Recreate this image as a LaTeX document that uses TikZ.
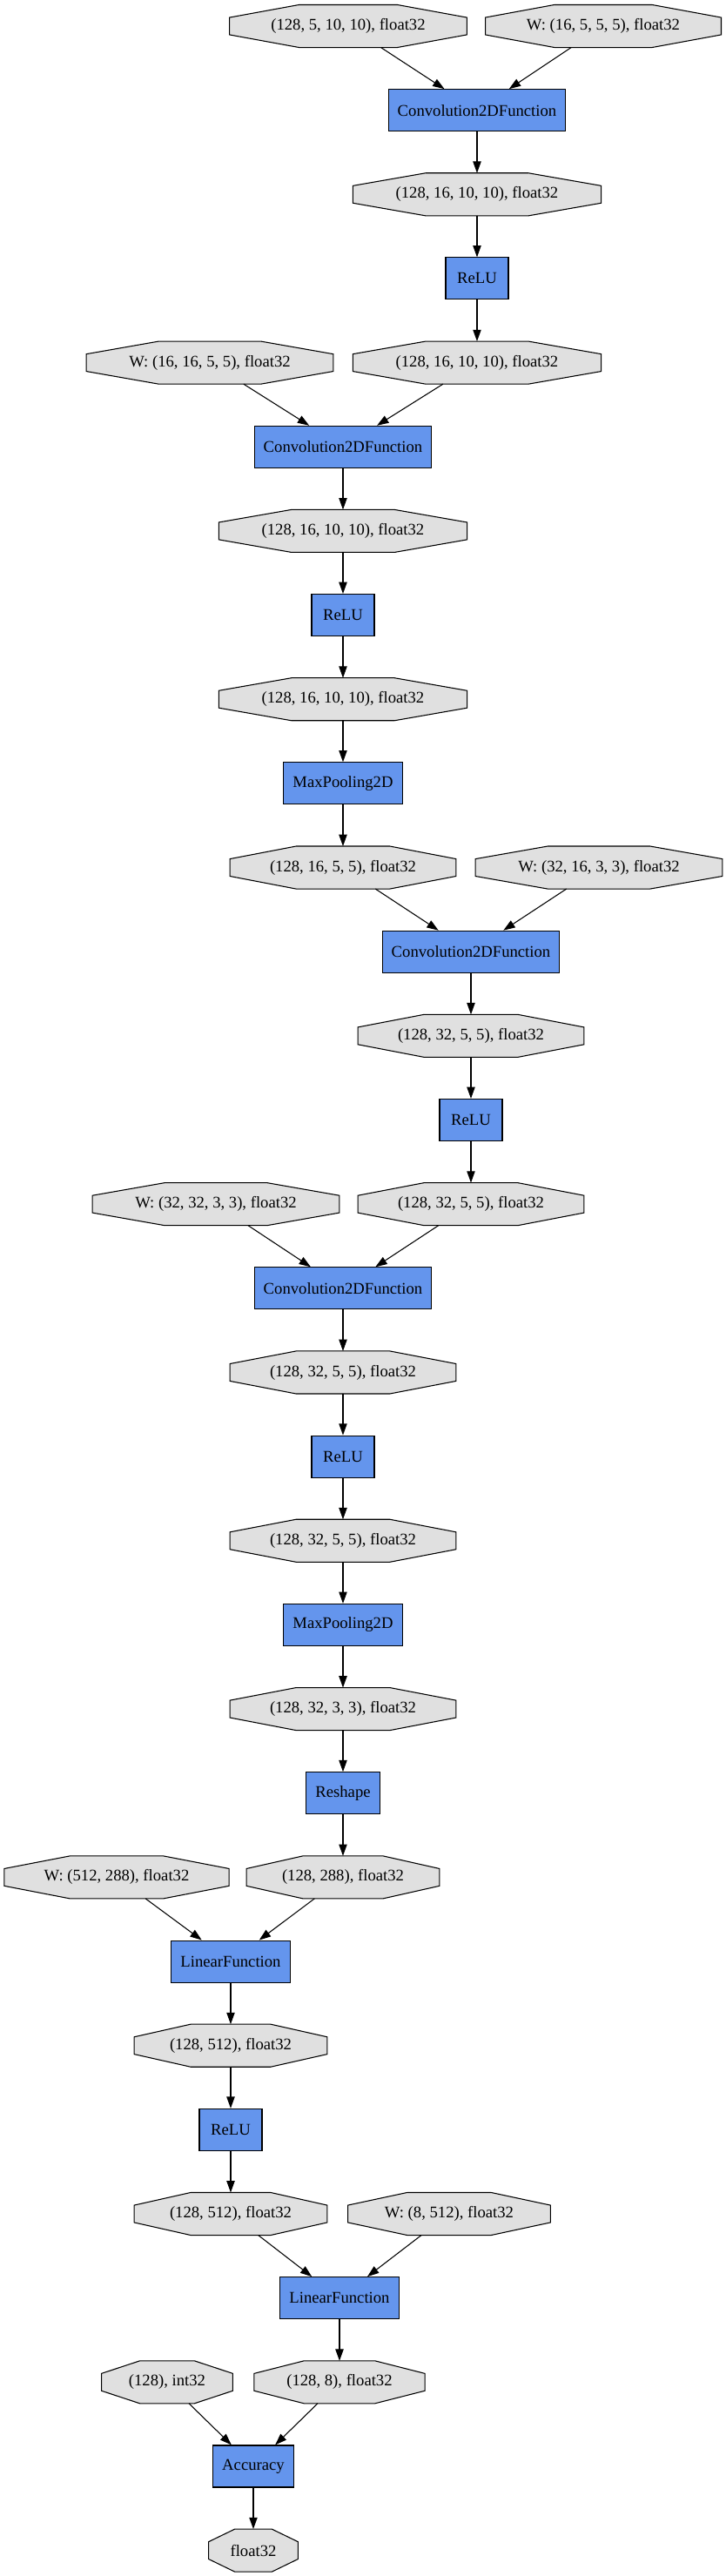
\documentclass[tikz,border=0pt]{standalone}
\usepackage{fontspec}
\setmainfont{Liberation Serif}
\usetikzlibrary{arrows.meta}
\usetikzlibrary{shapes, positioning, calc, backgrounds}
\definecolor{fnblue}{HTML}{6495ED}
\definecolor{vargray}{HTML}{E0E0E0}

\begin{document}
\begin{tikzpicture}[->,>={Triangle[length=10pt,width=7pt]},thick,auto, node distance=72.49pt,
  fn node/.style={rectangle,draw,fill=fnblue,minimum width=54pt,minimum height=36pt,inner xsep=8pt,font=\fontsize{14pt}{16pt}\selectfont},
  var node/.style={rectangle,minimum height=36pt,inner xsep=8pt,font=\fontsize{14pt}{16pt}\selectfont}]
  \useasboundingbox (-300pt,22.5pt) rectangle (325.5pt,-2196.75pt);
  \node[var node] (1) {(128, 5, 10, 10), float32};
  \node[var node, right of = 1, node distance=219.75pt] (2) {W: (16, 5, 5, 5), float32};
  \node[fn node, below of = 1, xshift=111pt] (3) {Convolution2DFunction};
  \node[var node, below of = 3] (4) {(128, 16, 10, 10), float32};
  \node[fn node, below of = 4] (5) {ReLU};
  \node[var node, below of = 5] (6) {(128, 16, 10, 10), float32};
  \node[var node, left of = 6, node distance=230.25pt] (7) {W: (16, 16, 5, 5), float32};
  \node[fn node, below of = 6, xshift=-115.5pt] (8) {Convolution2DFunction};
  \node[var node, below of = 8] (9) {(128, 16, 10, 10), float32};
  \node[fn node, below of = 9] (10) {ReLU};
  \node[var node, below of = 10] (11) {(128, 16, 10, 10), float32};
  \node[fn node, below of = 11] (12) {MaxPooling2D};
  \node[var node, below of = 12] (13) {(128, 16, 5, 5), float32};
  \node[var node, right of = 13, node distance=220.5pt] (14) {W: (32, 16, 3, 3), float32};
  \node[fn node, below of = 13, xshift=110.25pt] (15) {Convolution2DFunction};
  \node[var node, below of = 15] (16) {(128, 32, 5, 5), float32};
  \node[fn node, below of = 16] (17) {ReLU};
  \node[var node, below of = 17] (18) {(128, 32, 5, 5), float32};
  \node[var node, left of = 18, node distance=219.75pt] (19) {W: (32, 32, 3, 3), float32};
  \node[fn node, below of = 18, xshift=-110.25pt] (20) {Convolution2DFunction};
  \node[var node, below of = 20] (21) {(128, 32, 5, 5), float32};
  \node[fn node, below of = 21] (22) {ReLU};
  \node[var node, below of = 22] (23) {(128, 32, 5, 5), float32};
  \node[fn node, below of = 23] (24) {MaxPooling2D};
  \node[var node, below of = 24] (25) {(128, 32, 3, 3), float32};
  \node[fn node, below of = 25] (26) {Reshape};
  \node[var node, below of = 26] (27) {(128, 288), float32};
  \node[var node, left of = 27, node distance=195pt] (28) {W: (512, 288), float32};
  \node[fn node, below of = 27, xshift=-96.75pt] (29) {LinearFunction};
  \node[var node, below of = 29] (30) {(128, 512), float32};
  \node[fn node, below of = 30] (31) {ReLU};
  \node[var node, below of = 31] (32) {(128, 512), float32};
  \node[var node, right of = 32, node distance=188.25pt] (33) {W: (8, 512), float32};
  \node[fn node, below of = 32, xshift=93.75pt] (34) {LinearFunction};
  \node[var node, below of = 34] (35) {(128, 8), float32};
  \node[var node, left of = 35, node distance=148.5pt] (36) {(128), int32};
  \node[fn node, below of = 35, xshift=-74.25pt] (37) {Accuracy};
  \node[var node, below of = 37] (38) {float32};
  % octagons behind the variable nodes
  \begin{scope}[on background layer]
    \foreach \nd in {1,2,4,6,7,9,11,13,14,16,18,19,21,23,25,27,28,30,32,33,35,36,38}
      \draw[-,thick,fill=vargray] ($(\nd.north)!0.565!(\nd.north west)$) -- ($(\nd.north)!0.565!(\nd.north east)$)
        -- ($(\nd.center)!1.365!(\nd.east)+(0,7.45pt)$) -- ($(\nd.center)!1.365!(\nd.east)+(0,-7.45pt)$)
        -- ($(\nd.south)!0.565!(\nd.south east)$) -- ($(\nd.south)!0.565!(\nd.south west)$)
        -- ($(\nd.center)!1.365!(\nd.west)+(0,-7.45pt)$) -- ($(\nd.center)!1.365!(\nd.west)+(0,7.45pt)$) -- cycle;
  \end{scope}
  \path
    (1) edge (3)
    (2) edge (3)
    (3) edge (4)
    (4) edge (5)
    (5) edge (6)
    (7) edge (8)
    (6) edge (8)
    (8) edge (9)
    (9) edge (10)
    (10) edge (11)
    (11) edge (12)
    (12) edge (13)
    (13) edge (15)
    (14) edge (15)
    (15) edge (16)
    (16) edge (17)
    (17) edge (18)
    (19) edge (20)
    (18) edge (20)
    (20) edge (21)
    (21) edge (22)
    (22) edge (23)
    (23) edge (24)
    (24) edge (25)
    (25) edge (26)
    (26) edge (27)
    (28) edge (29)
    (27) edge (29)
    (29) edge (30)
    (30) edge (31)
    (31) edge (32)
    (32) edge (34)
    (33) edge (34)
    (34) edge (35)
    (36) edge (37)
    (35) edge (37)
    (37) edge (38);
\end{tikzpicture}
\end{document}
